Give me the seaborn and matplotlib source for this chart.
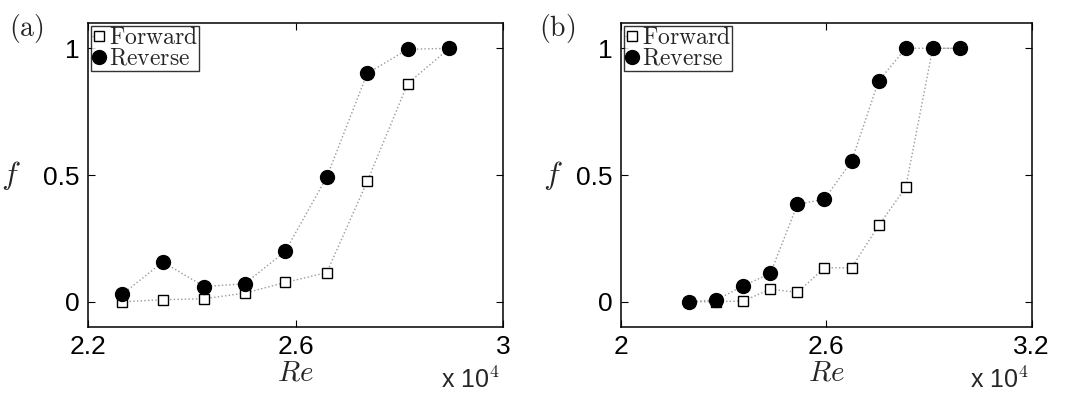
import numpy as np
import pandas as pd
import matplotlib
matplotlib.use("Agg")
import matplotlib.pyplot as plt
import seaborn as sns

# ---- data ----
re_a = [22660, 23440, 24240, 25020, 25800, 26600, 27380, 28160, 28960]
fwd_a = [0.0, 0.008, 0.012, 0.034, 0.076, 0.115, 0.475, 0.861, 1.0]
rev_a = [0.029, 0.157, 0.060, 0.071, 0.199, 0.492, 0.901, 0.996, 1.0]

re_b = [22000, 22790, 23580, 24370, 25160, 25950, 26740, 27530, 28320, 29110, 29900]
fwd_b = [0.0, 0.0, 0.003, 0.050, 0.037, 0.134, 0.134, 0.301, 0.451, 1.0, 1.0]
rev_b = [0.0, 0.007, 0.063, 0.112, 0.384, 0.405, 0.554, 0.871, 1.0, 1.0, 1.0]

xlims = [(22000, 30000), (20000, 32000)]
xticks = [[22000, 26000, 30000], [20000, 26000, 32000]]
xticklabels = [["2.2", "2.6", "3"], ["2", "2.6", "3.2"]]
yticks = [0, 0.5, 1]
yticklabels = ["0", "0.5", "1"]
panel_labels = ["(a)", "(b)"]

sns.set_style("white")
plt.rcParams["font.family"] = ["Liberation Sans", "DejaVu Sans"]
plt.rcParams["mathtext.fontset"] = "cm"

fig = plt.figure(figsize=(10.73, 3.96), dpi=100)
axes = [fig.add_axes([0.082, 0.174, 0.387, 0.768]),
        fig.add_axes([0.5785, 0.174, 0.383, 0.768])]

datasets = [(re_a, fwd_a, rev_a), (re_b, fwd_b, rev_b)]
flabel_x = [-0.186, -0.166]
panel_x = [0.008, 0.502]

for i, (ax, (re, fw, rv)) in enumerate(zip(axes, datasets)):
    df = pd.DataFrame({"Re": re, "fwd": fw, "rev": rv})
    sns.lineplot(data=df, x="Re", y="fwd", ax=ax, color="#9a9a9a", linestyle=":",
                 linewidth=1.0, marker="s", markersize=7, markerfacecolor="white",
                 markeredgecolor="black", markeredgewidth=1.0, label=r"$\mathrm{Forward}$",
                 zorder=2)
    sns.lineplot(data=df, x="Re", y="rev", ax=ax, color="#9a9a9a", linestyle=":",
                 linewidth=1.0, marker="o", markersize=10, markerfacecolor="black",
                 markeredgecolor="black", markeredgewidth=1.0, label=r"$\mathrm{Reverse}$",
                 zorder=3)
    ax.set_xlim(*xlims[i])
    ax.set_ylim(-0.1, 1.1)
    ax.set_xticks(xticks[i])
    ax.set_xticklabels(xticklabels[i], fontsize=19)
    ax.set_yticks(yticks)
    ax.set_yticklabels(yticklabels, fontsize=19)
    ax.tick_params(direction="in", length=5, width=0.8, top=True, right=True,
                   bottom=True, left=True, pad=6, colors="black")
    for s in ax.spines.values():
        s.set_color("black")
        s.set_linewidth(1.1)
    ax.set_xlabel(r"$Re$", fontsize=21, labelpad=-1)
    ax.set_ylabel("")
    ax.text(flabel_x[i], 0.5, r"$f$", transform=ax.transAxes, fontsize=23,
            ha="center", va="center")
    leg = ax.legend(loc="upper left", fontsize=17, frameon=True, fancybox=False,
                    edgecolor="black", borderpad=0.05, labelspacing=-0.05,
                    handlelength=0.6, handletextpad=0.12, borderaxespad=0.12)
    leg.get_frame().set_linewidth(1.0)
    fig.text(panel_x[i], 0.97, r"$\mathrm{" + panel_labels[i] + "}$",
             fontsize=20, ha="left", va="top")
    bb = ax.get_position()
    fig.text(bb.x1 - 0.003, 0.008, r"x 10$^4$", fontsize=18, ha="right", va="bottom")

fig.savefig("out.png", dpi=100, facecolor="white")
